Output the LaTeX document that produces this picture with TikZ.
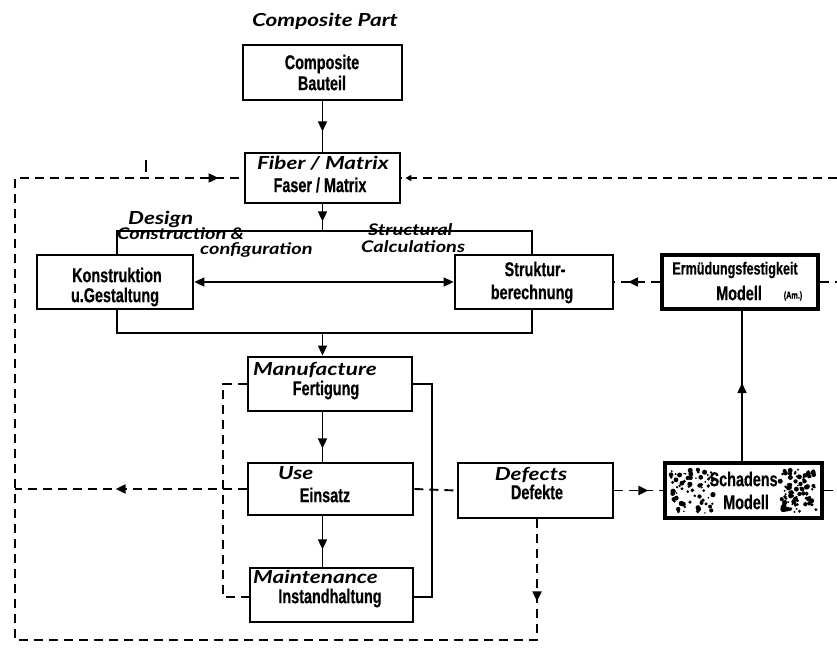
\documentclass[tikz,border=0pt]{standalone}
\usepackage{fontspec}
\usetikzlibrary{arrows.meta,decorations.markings,calc}
\newfontfamily\boxfont[FakeStretch=0.72,FakeBold=0.5]{Liberation Sans}
\newfontfamily\handfont[FakeStretch=1.25]{Lato}

\tikzset{
  x=1pt, y=-1pt,
  blk/.style={draw, line width=2.8pt, fill=white, inner sep=0pt},
  heavy/.style={blk, line width=3.8pt},
  frm/.style={draw, line width=1.6pt, inner sep=0pt},
  conn/.style={line width=1.6pt},
  dsh/.style={line width=1.9pt, dash pattern=on 9pt off 6pt},
  tipend/.style={-{Triangle[length=10pt,width=9pt]}},
  tipmid/.style={postaction=decorate, decoration={markings,
      mark=at position #1 with {\arrow{Triangle[length=10pt,width=9pt]}}}},
  tipsmall/.style={postaction=decorate, decoration={markings,
      mark=at position #1 with {\arrow{Triangle[length=6pt,width=6pt]}}}},
  de/.style={font=\boxfont\bfseries\fontsize{20}{22}\selectfont, inner sep=0pt},
  en/.style={font=\handfont\bfseries\itshape\fontsize{18}{20}\selectfont, inner sep=0pt},
  ensmall/.style={en, font=\handfont\bfseries\itshape\fontsize{16}{18}\selectfont},
}

\begin{document}
\begin{tikzpicture}
\useasboundingbox (0,0) rectangle (837,648);

% design frame behind the two design boxes
\node[frm, minimum width=415pt, minimum height=102pt] (frame) at (324.5,282) {};

% boxes
\node[blk, minimum width=159pt, minimum height=55pt] (cb) at (322.5,72.5) {};
\node[blk, minimum width=155pt, minimum height=50pt] (fm) at (322.5,178) {};
\node[blk, minimum width=156pt, minimum height=54pt] (ko) at (115,282) {};
\node[blk, minimum width=158pt, minimum height=54pt] (st) at (534,282) {};
\node[heavy, minimum width=156pt, minimum height=54pt] (fe) at (740,282) {};
\node[blk, minimum width=164pt, minimum height=54pt] (fg) at (330,384) {};
\node[blk, minimum width=165pt, minimum height=52pt] (es) at (330.5,489) {};
\node[blk, minimum width=163pt, minimum height=54pt] (ih) at (331.5,595) {};
\node[blk, minimum width=155pt, minimum height=55pt] (df) at (535.5,490.5) {};
\node[heavy, minimum width=157pt, minimum height=55pt] (sm) at (743.5,490.5) {};

% speckled fill of the damage model box
\pgfmathsetseed{7}
\foreach \i in {1,...,75} {
  \pgfmathsetmacro{\px}{671+rnd*42}
  \pgfmathsetmacro{\py}{469+rnd*44}
  \pgfmathsetmacro{\pr}{0.8+rnd*1.9}
  \fill (\px,\py) circle (\pr pt);
}
\foreach \i in {1,...,85} {
  \pgfmathsetmacro{\px}{780+rnd*37}
  \pgfmathsetmacro{\py}{469+rnd*44}
  \pgfmathsetmacro{\pr}{0.8+rnd*1.9}
  \fill (\px,\py) circle (\pr pt);
}

% corner points of the outer feedback loop and the loose ends
\coordinate (L1) at (15,178);
\coordinate (L2) at (15,640);
\coordinate (R)  at (537,640);
\coordinate (e0) at (837,178);
\coordinate (e1) at (837,282);
\coordinate (e2) at (837,490.5);
\coordinate (lt) at (223,384);
\coordinate (lb) at (223,597);
\coordinate (rt) at (432,384);
\coordinate (rb) at (432,597);

% main flow
\draw[conn, tipmid=30pt] (cb.south) -- (fm.north);
\draw[conn, tipmid=17pt] (fm.south) -- (frame.north -| fm.south);
\draw[conn, tipend] (frame.south -| cb.south) -- (fg.north -| cb.south);
\draw[conn, tipmid=36pt] (fg.south -| cb.south) -- (es.north -| cb.south);
\draw[conn, tipmid=33pt] (es.south -| cb.south) -- (ih.north -| cb.south);
\draw[conn, {Triangle[length=10pt,width=9pt]}-{Triangle[length=10pt,width=9pt]}] (ko.east) -- (st.west);

% loops around manufacture and maintenance
\draw[conn] (fg.east) -- (rt) -- (rb) -- (rb -| ih.east);
\draw[dsh] (fg.west) -- (lt) -- (lb) -- (lb -| ih.west);

% dashed information flows
\draw[dsh, tipmid=131pt] (es.west) -- (es.west -| L1);
\draw[dsh] (es.east) -- (df.west);
\draw[dsh, tipmid=34pt] (df.east) -- (sm.west);
\draw[dsh] (sm.east) -- (e2);
\draw[dsh, tipmid=32pt] (fe.west) -- (st.east);
\draw[dsh] (fe.east) -- (e1);
\draw[dsh, tipsmall=-4pt] (e0) -- (fm.east);
\draw[dsh, postaction=decorate, decoration={markings,
    mark=at position 82pt with {\arrow{Triangle[length=10pt,width=9pt]}},
    mark=at position -25pt with {\arrow{Triangle[length=10pt,width=9pt]}}}]
  (df.south -| R) -- (R) -- (L2) -- (L1) -- (fm.west);
\draw[conn] (146,160) -- (146,172);

% strength model fed by damage model
\draw[conn, tipmid=80pt] (742,463) -- (742,309);

% texts
\node[en] (title) at (325,21) {Composite Part};
\node[de] (t1) at (322,64) {Composite};
\node[de] (t2) at (322,83) {Bauteil};
\node[en] (t3) at (323,163) {Fiber / Matrix};
\node[de] (t4) at (320,185) {Faser / Matrix};
\node[en, anchor=west] (t5) at (128,219) {Design};
\node[ensmall, anchor=west] (t6) at (117,234) {Construction \&};
\node[ensmall, anchor=west] (t7) at (200,250) {configuration};
\node[ensmall, anchor=west] (t8) at (368,230) {Structural};
\node[ensmall, anchor=west] (t9) at (361,247) {Calculations};
\node[de] (t10) at (117,275) {Konstruktion};
\node[de] (t11) at (115,297) {u.Gestaltung};
\node[de] (t12) at (535,269) {Struktur-};
\node[de] (t13) at (532,294) {berechnung};
\node[de, font=\boxfont\bfseries\fontsize{17.5}{19}\selectfont] (t14) at (735,270) {Ermüdungsfestigkeit};
\node[de] (t15) at (739,293) {Modell};
\node[de, font=\boxfont\bfseries\fontsize{10}{11}\selectfont] (t16) at (793,296) {(Am.)};
\node[en, anchor=west] (t17) at (253,370) {Manufacture};
\node[de] (t18) at (326,390) {Fertigung};
\node[en, anchor=west] (t19) at (278,473) {Use};
\node[de] (t20) at (325,495) {Einsatz};
\node[en, anchor=west] (t21) at (253,577) {Maintenance};
\node[de] (t22) at (330,598) {Instandhaltung};
\node[en] (t23) at (531,475) {Defects};
\node[de] (t24) at (537,492) {Defekte};
\node[de] (t25) at (746,479) {Schadens-};
\node[de] (t26) at (746,502) {Modell};
\end{tikzpicture}
\end{document}
